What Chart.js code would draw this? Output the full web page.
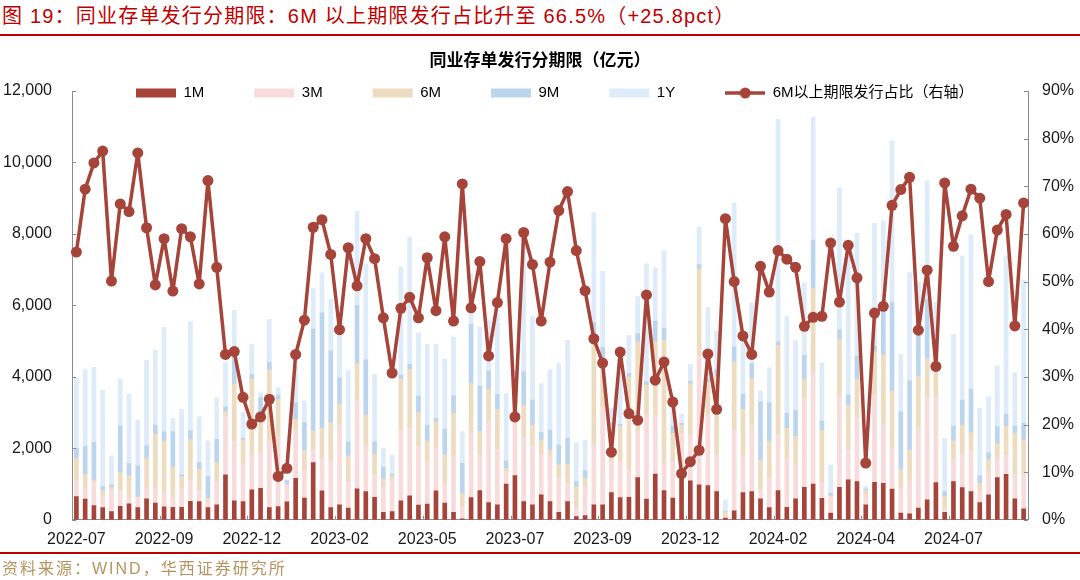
<!DOCTYPE html>
<html>
<head>
<meta charset="utf-8">
<script src="https://cdn.jsdelivr.net/npm/chart.js@4"></script>
<style>
  body { margin: 0; width: 1080px; height: 580px; background: #fff; position: relative; overflow: hidden;
         font-family: "Liberation Sans", "Noto Sans CJK SC", sans-serif; }
  #head { position: absolute; left: 2px; top: 0; line-height: 32px; font-size: 20px; color: #c00000; letter-spacing: 1.2px; white-space: nowrap; }
  .rule { position: absolute; left: 0; width: 1080px; height: 2px; background: #c00000; }
  #box { position: absolute; left: 0; top: 36px; width: 1080px; height: 524px; }
  #src { position: absolute; left: 2px; top: 558px; line-height: 22px; font-size: 16px; color: #b8935f; letter-spacing: 2px; white-space: nowrap; }
</style>
</head>
<body>
<div id="head">图 19：同业存单发行分期限：6M 以上期限发行占比升至 66.5%（+25.8pct）</div>
<div class="rule" style="top:34px"></div>
<div id="box"><canvas id="myChart"></canvas></div>
<div class="rule" style="top:552px"></div>
<div id="src">资料来源：WIND，华西证券研究所</div>

<script>
// tick labels on the category axis, one every 10 weeks
const xTicks = ['2022-07', '2022-09', '2022-12', '2023-02', '2023-05', '2023-07',
                '2023-09', '2023-12', '2024-02', '2024-04', '2024-07'];

// weekly issuance by tenor (亿元)
const m1 = [650,580,400,340,230,380,450,340,590,470, 360,350,350,520,510,340,420,1260,530,510,
  840,880,340,370,500,1160,610,1600,810,340, 420,330,870,790,630,210,230,530,670,410,
  440,810,470,210,30,620,820,480,420,1000, 1240,510,420,700,510,210,510,90,120,420,
  420,760,620,630,1180,580,1280,820,610,1290, 1090,980,960,790,50,250,760,790,590,340,
  820,350,590,910,1000,600,190,910,1120,1070, 420,1050,1020,860,190,170,330,560,1040,210,
  1070,900,790,480,700,1180,1270,590,310];
const m3 = [440,280,670,310,590,440,160,290,300,390, 420,280,510,600,310,170,650,1640,1660,1070,
  970,990,1860,1960,480,1370,770,350,910,1320, 2230,740,2480,1300,630,720,890,1980,1890,1660,
  1190,1210,550,1600,340,1800,990,2280,1550,350, 1550,1790,1670,1130,1280,950,510,240,810,1670,
  2760,870,1010,770,1290,2350,1650,720,1020,1130, 1280,3620,1970,1050,40,2280,1010,1860,250,820,
  1550,1370,950,2490,3140,420,460,2530,830,1800, 280,2440,1680,1160,690,950,2250,2880,2400,120,
  620,940,1140,310,650,510,540,680,990];
const m6 = [630,410,50,170,90,500,620,10,830,1540, 1420,840,350,1120,600,100,530,120,1610,650,
  2120,910,1990,1040,20,280,560,540,840,1060, 590,720,1020,840,580,210,110,1430,1650,930,
  580,720,790,1170,370,1390,660,890,1120,90, 410,900,560,400,150,380,540,600,230,2790,
  1290,1020,990,2600,2510,840,2050,3480,790,230, 1440,2420,930,2180,120,1890,1320,1300,830,1030,
  2510,840,790,530,2330,1490,20,1600,1260,1060, 120,1210,1910,1580,530,830,1440,1070,700,320,
  520,810,510,230,350,450,810,1150,930];
const m9 = [280,780,1050,110,70,1310,340,880,350,250, 260,1000,50,250,180,600,650,140,760,50,
  140,640,220,120,90,460,780,2850,3230,2010, 730,390,1630,1550,340,330,50,110,140,460,
  440,90,730,490,840,1660,1270,510,420,210, 100,940,700,210,570,550,720,140,220,630,
  350,50,50,90,230,90,580,330,200,50, 70,120,90,180,20,420,430,420,1630,1080,
  100,420,740,670,1360,250,80,280,280,650, 40,160,1440,2490,1610,1940,1190,1650,230,140,
  410,700,1220,220,180,470,340,200,470];
const y1 = [1980,2150,2100,2700,810,1310,1950,1270,2400,2090, 2930,360,1830,3060,1280,1000,1160,1240,1300,720,
  840,130,1200,210,30,1030,600,1130,1120,1440, 1330,1990,2630,2680,1890,530,530,3020,3560,1770,
  2260,2080,1960,1640,890,1410,1660,1420,2260,1890, 900,3860,2340,1370,1690,2280,2740,1090,850,3090,
  2130,420,1980,1070,1040,3300,1490,2170,680,260, 470,1050,1990,1080,330,4020,1640,1700,300,980,
  6230,2710,1950,2030,3430,1630,790,3960,4080,3440, 80,3440,2320,4510,1610,3030,1460,3330,1720,1490,
  2560,4030,4320,1880,1560,1700,4410,1500,4000];

// share of issuance above 6M (%), right axis
const share = [56.2,69.4,74.9,77.4,50.1,66.3,64.7,77.0,61.3,49.3,
  59.0,48.0,61.1,59.4,49.5,71.2,53.0,34.7,35.3,25.7,
  20.1,21.6,25.3,9.1,10.8,34.7,41.9,61.4,63.0,55.7,
  39.9,57.1,49.1,59.0,54.8,42.4,30.8,44.4,46.7,42.4,
  55.0,43.9,59.4,41.7,70.5,44.5,54.2,34.4,45.6,59.0,
  21.6,60.3,53.6,41.7,54.1,64.9,68.9,56.5,48.1,38.0,
  32.9,14.2,35.2,22.3,20.9,47.2,29.3,33.1,24.7,9.7,
  12.2,14.6,34.8,23.2,63.2,50.0,38.6,34.7,53.2,47.8,
  56.5,54.7,53.0,40.6,42.5,42.7,58.1,45.7,57.6,50.8,
  11.9,43.4,44.8,66.0,69.3,71.9,39.8,52.4,32.2,70.7,
  57.4,63.8,69.4,67.5,50.0,60.8,64.1,40.7,66.5];

const weeks = m1.map((_, i) => (i % 10 === 0 ? xTicks[i / 10] : ''));

const RED = '#a6443a';
const AXIS = '#8c8c8c';

Chart.defaults.font.family = '"Liberation Sans", "Noto Sans CJK SC", sans-serif';
Chart.defaults.font.size = 16;
Chart.defaults.color = '#1a1a1a';

// legend icon for the line series: segment with a dot
const lineIcon = document.createElement('canvas');
lineIcon.width = 40; lineIcon.height = 12;
(function () {
  const c = lineIcon.getContext('2d');
  c.strokeStyle = RED; c.lineWidth = 3.5;
  c.beginPath(); c.moveTo(0, 6); c.lineTo(40, 6); c.stroke();
  c.fillStyle = RED;
  c.beginPath(); c.arc(20, 6, 5.5, 0, Math.PI * 2); c.fill();
})();

// small inward tick marks like the original
const innerTicks = {
  id: 'innerTicks',
  afterDatasetsDraw(chart) {
    const {ctx, chartArea: a, scales} = chart;
    ctx.save();
    ctx.strokeStyle = AXIS;
    ctx.lineWidth = 1;
    ctx.beginPath();
    scales.y.ticks.forEach((t, i) => {
      const py = Math.round(scales.y.getPixelForTick(i)) + 0.5;
      ctx.moveTo(a.left, py); ctx.lineTo(a.left + 4, py);
    });
    scales.y1.ticks.forEach((t, i) => {
      const py = Math.round(scales.y1.getPixelForTick(i)) + 0.5;
      ctx.moveTo(a.right, py); ctx.lineTo(a.right - 4, py);
    });
    const step = a.width / weeks.length;
    for (let i = 0; i <= weeks.length; i += 10) {
      const px = Math.round(a.left + i * step) + 0.5;
      ctx.moveTo(px, a.bottom); ctx.lineTo(px, a.bottom - 4);
    }
    ctx.stroke();
    ctx.restore();
  }
};

// legend sits inside the plot, on the top edge
const legendInside = {
  id: 'legendInside',
  afterLayout(chart) {
    const lg = chart.legend;
    const pad = lg.options.labels.padding;
    lg.top = chart.chartArea.top + 2 - 7.5 - pad;
    lg.bottom = lg.top + pad + 30;
    lg.height = lg.bottom - lg.top;
    lg.left = 136 - pad;
    lg.right = chart.width;
  }
};

const bar = (label, data, color) => ({
  type: 'bar', label, data, backgroundColor: color, borderWidth: 0,
  stack: 'tenor', yAxisID: 'y', order: 1, barThickness: 4
});

new Chart(document.getElementById('myChart'), {
  type: 'bar',
  data: {
    labels: weeks,
    datasets: [
      bar('1M', m1, RED),
      bar('3M', m3, '#f8dcdb'),
      bar('6M', m6, '#eedcc0'),
      bar('9M', m9, '#bcd5ee'),
      bar('1Y', y1, '#deebf8'),
      {
        type: 'line', label: '6M以上期限发行占比（右轴）', data: share, yAxisID: 'y1', order: 0,
        borderColor: RED, backgroundColor: RED, borderWidth: 3.5, tension: 0,
        borderJoinStyle: 'round', borderCapStyle: 'round',
        pointRadius: 5.5, pointHoverRadius: 5.5, pointBackgroundColor: RED, pointBorderWidth: 0
      }
    ]
  },
  options: {
    responsive: true,
    maintainAspectRatio: false,
    animation: false,
    layout: { padding: { left: 0, right: 0, top: 0, bottom: 1 } },
    plugins: {
      tooltip: { enabled: false },
      title: {
        display: true,
        text: '同业存单发行分期限（亿元）',
        color: '#000',
        font: { size: 17, weight: 'bold' },
        padding: { top: 14.8, bottom: 18.8 }
      },
      legend: {
        position: 'top',
        align: 'start',
        maxHeight: 1,
        labels: {
          color: '#000',
          font: { size: 15 },
          padding: 50,
          boxWidth: 40,
          boxHeight: 9,
          usePointStyle: true,
          pointStyleWidth: 40,
          sort: (a, b) => a.datasetIndex - b.datasetIndex,
          generateLabels(chart) {
            const items = Chart.defaults.plugins.legend.labels.generateLabels(chart);
            items.forEach(it => {
              it.pointStyle = it.datasetIndex === 5 ? lineIcon : 'rect';
              it.lineWidth = 0;
            });
            return items;
          }
        }
      }
    },
    scales: {
      x: {
        stacked: true,
        grid: { display: false, drawTicks: false },
        border: { display: true, color: AXIS },
        ticks: { autoSkip: false, maxRotation: 0, minRotation: 0, padding: 10 }
      },
      y: {
        stacked: true,
        position: 'left',
        min: 0, max: 12000,
        grid: { display: false, drawTicks: false },
        border: { display: true, color: AXIS },
        ticks: { stepSize: 2000, padding: 20, callback: v => v.toLocaleString('en-US') },
        afterFit(scale) { scale.width = 72; }
      },
      y1: {
        position: 'right',
        min: 0, max: 90,
        grid: { display: false, drawTicks: false },
        border: { display: true, color: AXIS },
        ticks: { stepSize: 10, padding: 14, callback: v => v + '%' },
        afterFit(scale) { scale.width = 52; }
      }
    }
  },
  plugins: [innerTicks, legendInside]
});
</script>
</body>
</html>
